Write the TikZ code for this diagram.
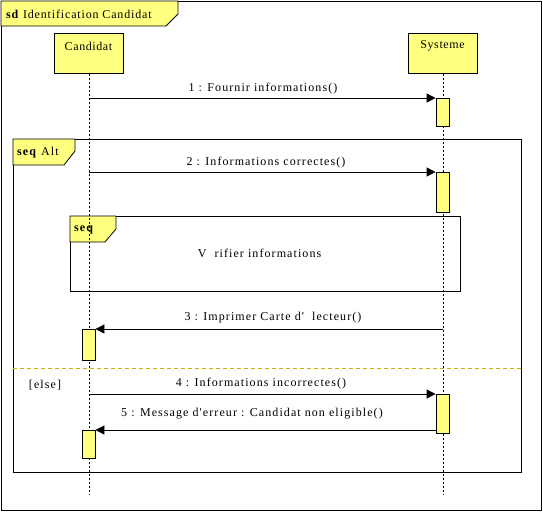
\documentclass[tikz,border=0pt]{standalone}
\usepackage{fontspec}
\setmainfont{Liberation Serif}
\newfontfamily\spfont[LetterSpace=9]{Liberation Serif}
\newfontfamily\hdfont[LetterSpace=5]{Liberation Serif}
\newfontfamily\ttlfont[LetterSpace=7]{Liberation Serif}
\usetikzlibrary{arrows.meta}
\definecolor{uyellow}{HTML}{FFFF80}
\definecolor{sepcol}{HTML}{C8B400}
\tikzset{
  frame/.style={draw=black, line width=0.8pt},
  head/.style={draw=black, fill=uyellow, line width=0.8pt, minimum width=69pt, minimum height=40pt, inner sep=0pt, anchor=north},
  hdlbl/.style={font=\hdfont\fontsize{12pt}{14pt}\selectfont, inner sep=0pt},
  actbox/.style={draw=black, fill=uyellow, line width=0.8pt, minimum width=13pt, inner sep=0pt, anchor=north},
  life/.style={draw=black, line width=0.8pt, dash pattern=on 2pt off 2pt},
  msg/.style={draw=black, line width=0.8pt, -{Triangle[length=9pt,width=9pt]}},
  lbl/.style={font=\spfont\fontsize{12pt}{14pt}\selectfont, inner sep=0pt},
  ttl/.style={font=\ttlfont\fontsize{12pt}{14pt}\selectfont, inner sep=0pt},
  tabfill/.style={draw=black, fill=uyellow, line width=0.8pt},
}
\begin{document}
\begin{tikzpicture}[x=1pt,y=-1pt]
\useasboundingbox (0,0) rectangle (543,512);
% outer frame
\draw[frame] (1,1) rectangle (541,510);
\draw[tabfill] (1,1) -- (178,1) -- (178,14) -- (166,26) -- (1,26) -- cycle;
\node[ttl, anchor=west] (title) at (6,14) {\textbf{sd} Identification Candidat};
% alt frame
\draw[frame] (13,139) rectangle (521,472);
\draw[tabfill] (13,139) -- (75,139) -- (75,151) -- (64,165) -- (13,165) -- cycle;
\node[lbl, anchor=west] (alttab) at (17,152.5) {\textbf{seq} Alt};
% inner seq frame
\draw[frame] (70,216) rectangle (460,291);
\draw[tabfill] (70,216) -- (116,216) -- (116,229) -- (105,242) -- (70,242) -- cycle;
\node[lbl, anchor=west] (seqtab) at (74,229.5) {\textbf{seq}};
\node[lbl] (verif) at (259.5,253) {V\ \ rifier informations};
% separator
\draw[draw=sepcol, line width=0.8pt, dash pattern=on 4pt off 3pt] (13,368) -- (521,368);
\node[lbl] (else) at (45,385) {[else]};
% heads
\node[head] (cand) at (88.5,33) {};
\node[hdlbl] at (88.5,46) {Candidat};
\node[head] (sys) at (442.5,33) {};
\node[hdlbl] at (442.5,46) {Systeme};
\coordinate (candend) at (89,495);
\coordinate (sysend) at (443,495);
\draw[life] (cand.south -| 89,0) -- (candend);
\draw[life] (sys.south -| 443,0) -- (sysend);
% activations
\node[actbox, minimum height=28pt] (s1) at (442.5,98) {};
\node[actbox, minimum height=40pt] (s2) at (442.5,172) {};
\node[actbox, minimum height=31pt] (c3) at (88.5,329) {};
\node[actbox, minimum height=39pt] (s4) at (442.5,394) {};
\node[actbox, minimum height=28pt] (c5) at (88.5,430) {};
% messages
\coordinate (m1) at (89,98);
\draw[msg] (m1) -- (s1.north west);
\node[lbl] at (263,88.5) {1 : Fournir informations()};
\coordinate (m2) at (89,172);
\draw[msg] (m2) -- (s2.north west);
\node[lbl] at (266,162.5) {2 : Informations correctes()};
\coordinate (m3) at (443,329);
\draw[msg] (m3) -- (c3.north east);
\node[lbl] at (273,317.5) {3 : Imprimer Carte d'\ \ lecteur()};
\coordinate (m4) at (89,394);
\draw[msg] (m4) -- (s4.north west);
\node[lbl] at (261,383.5) {4 : Informations incorrectes()};
\coordinate (m5) at (436,430);
\draw[msg] (s4.west |- m5) -- (c5.north east);
\node[lbl] at (252,414) {5 : Message d'erreur : Candidat non eligible()};
\end{tikzpicture}
\end{document}
